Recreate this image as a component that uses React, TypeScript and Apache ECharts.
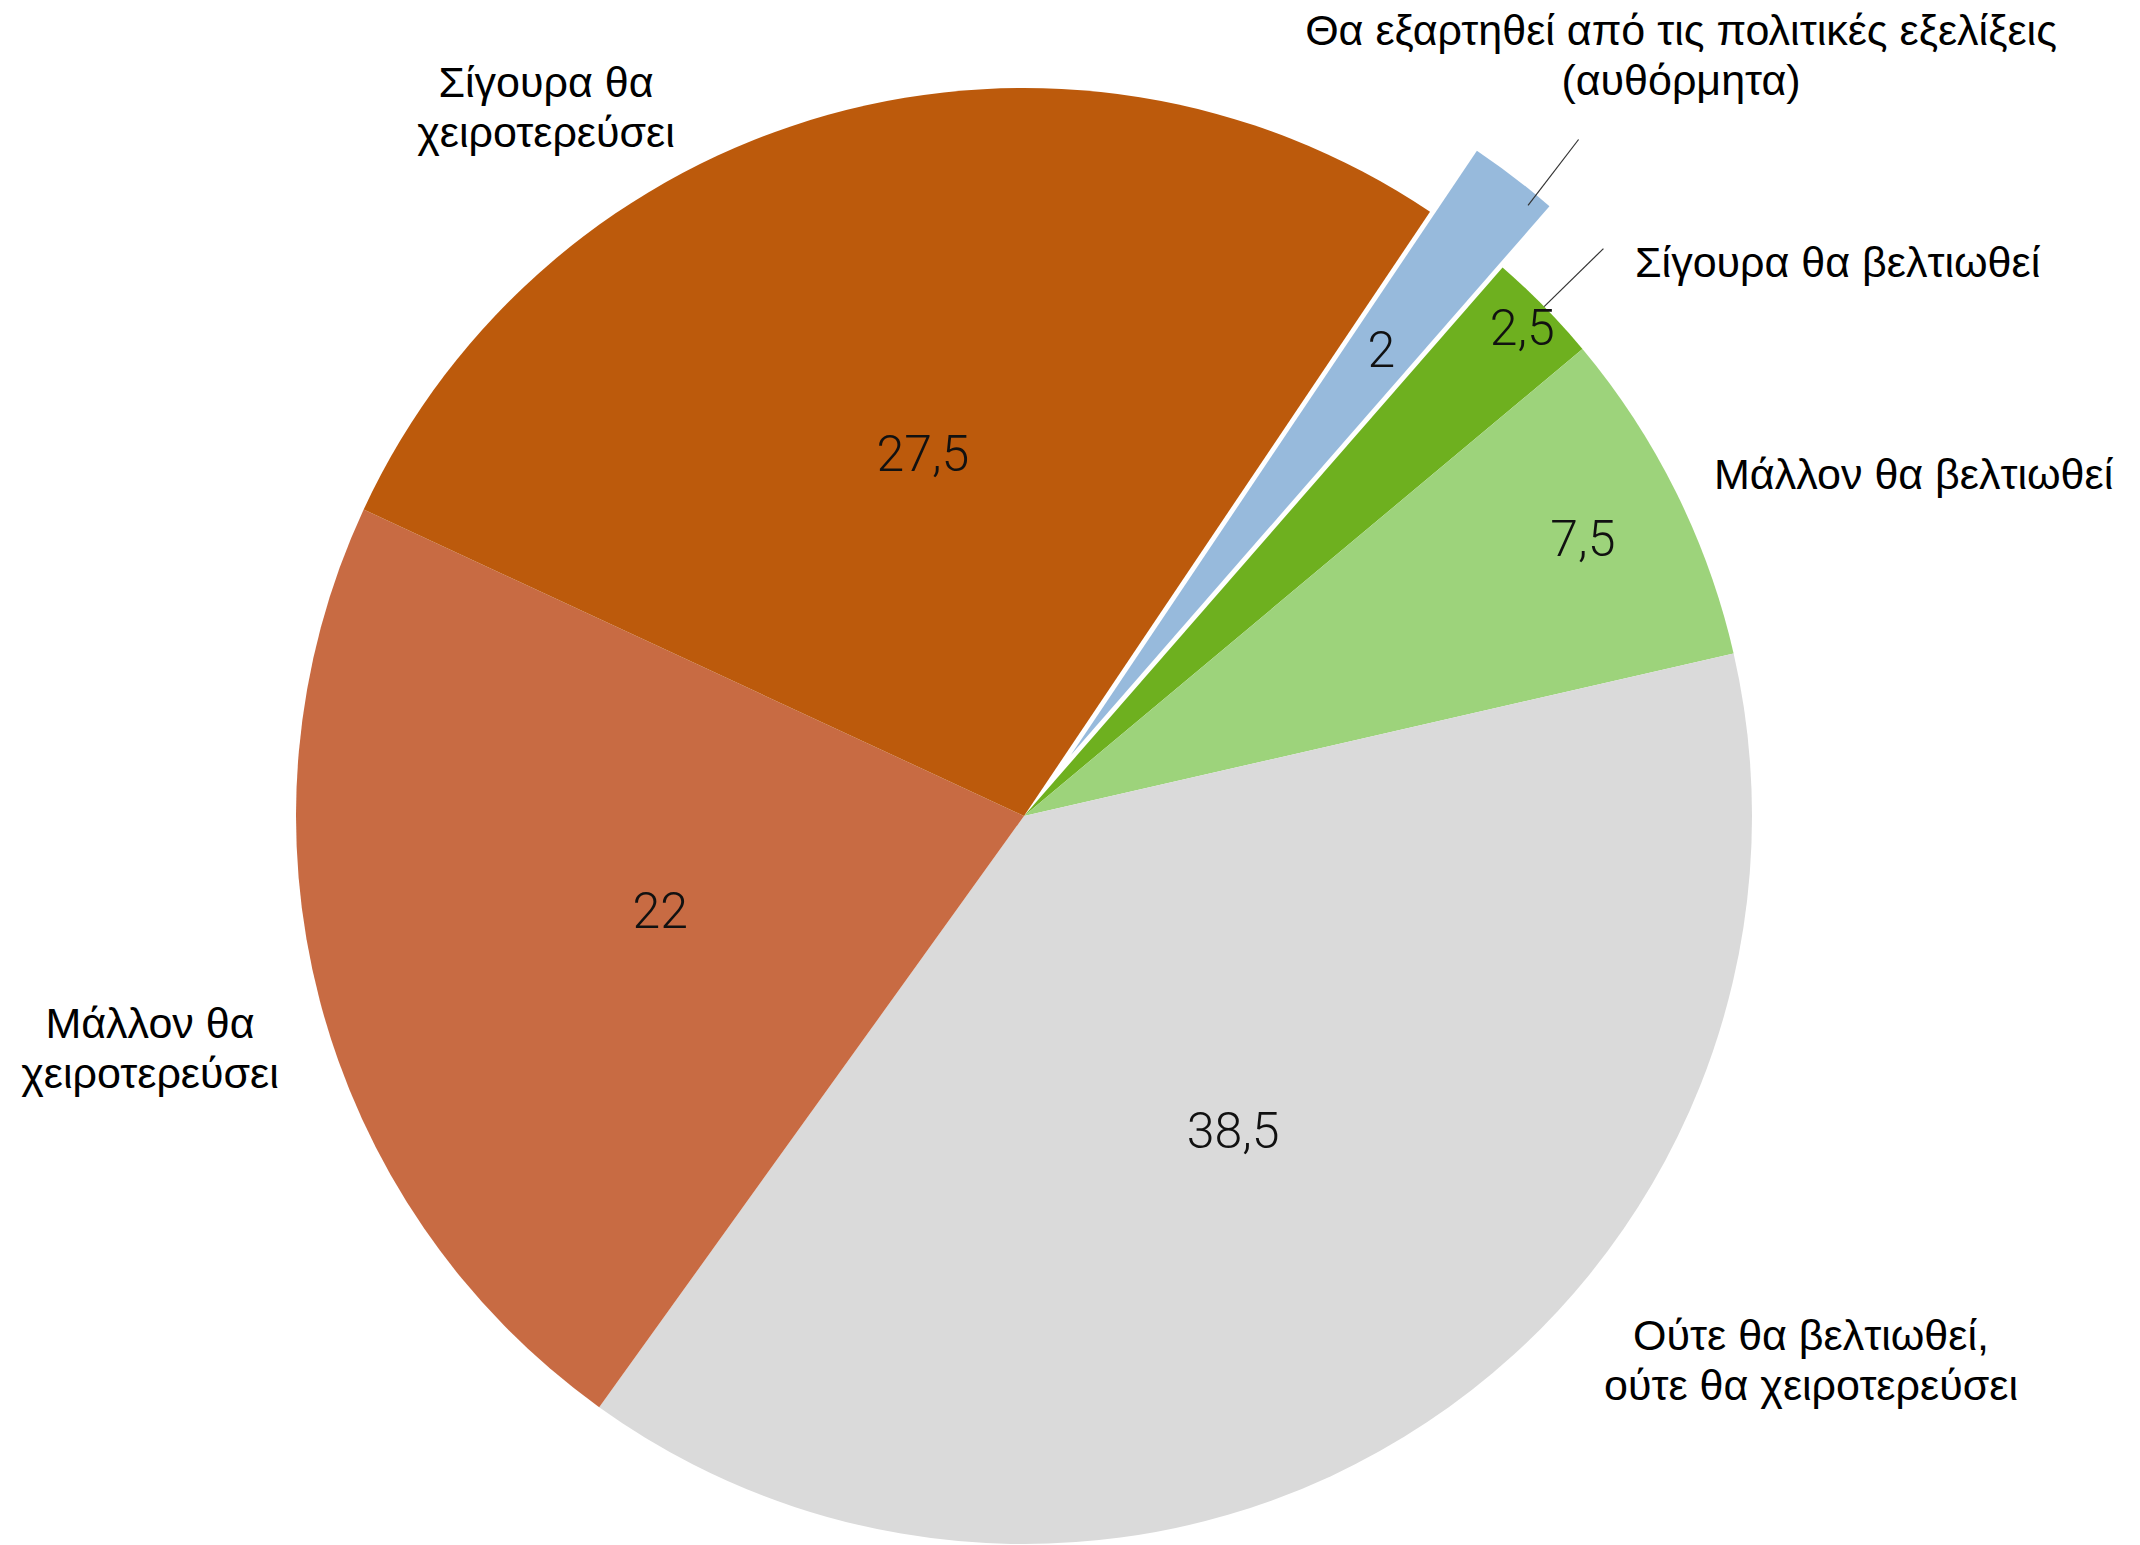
import React, { useEffect, useRef } from "react";
import * as echarts from "echarts";

// ---- data ----
const categories = [
  "Θα εξαρτηθεί από τις πολιτικές εξελίξεις\n(αυθόρμητα)",
  "Σίγουρα θα βελτιωθεί",
  "Μάλλον θα βελτιωθεί",
  "Ούτε θα βελτιωθεί,\nούτε θα χειροτερεύσει",
  "Μάλλον θα\nχειροτερεύσει",
  "Σίγουρα θα\nχειροτερεύσει",
];
const values = [2, 2.5, 7.5, 38.5, 22, 27.5];
const explodedIndex = 0;

// ---- style / layout ----
const colors = ["#97BADC", "#6EB01F", "#9DD37B", "#DADADA", "#C86B43", "#BC5A0C"];
const CX = 1024;
const CY = 816;
const RADIUS = 728;
const START_ANGLE = 56.1;
const EXPLODE = 77;
const EXPLODED_LINE_NUDGE = [14, 28];
const VALUE_RADIAL = [1.6, 1.9, 1.7, 1.03, 1.025, 1.025];
const NAME_POS = [
  { x: 1681, y: 55, align: "center" },
  { x: 1635, y: 262, align: "left" },
  { x: 1714, y: 474, align: "left" },
  { x: 1811, y: 1360, align: "center" },
  { x: 150, y: 1048, align: "center" },
  { x: 546, y: 107, align: "center" },
];
const SHOW_LINE = [true, true, false, false, false, false];

const NAME_FONT = "'Helvetica Neue', Helvetica, 'Liberation Sans', Arial, sans-serif";
const VALUE_FONT = "'Helvetica Neue', Roboto, 'Liberation Sans', sans-serif";

export default function App() {
  const ref = useRef<HTMLDivElement>(null);

  useEffect(() => {
    if (!ref.current) return;
    const chart = echarts.init(ref.current, undefined, { renderer: "svg" });

    const sliceData = values.map((v, i) => ({
      name: categories[i],
      value: v,
      selected: i === explodedIndex,
      itemStyle: { color: colors[i] },
    }));

    const ghostData = (withLines: boolean) =>
      values.map((v, i) => ({
        name: categories[i],
        value: v,
        itemStyle: { color: "rgba(0,0,0,0)" },
        labelLine: { show: withLines && SHOW_LINE[i] },
      }));

    const common = {
      type: "pie",
      center: [CX, CY],
      radius: [0, RADIUS],
      startAngle: START_ANGLE,
      clockwise: true,
      avoidLabelOverlap: false,
      emphasis: { disabled: true },
    };

    chart.setOption({
      animation: false,
      backgroundColor: "#ffffff",
      series: [
        {
          ...common,
          name: "slices",
          data: sliceData,
          selectedMode: "multiple",
          selectedOffset: EXPLODE,
          select: { disabled: false, itemStyle: {} },
          itemStyle: { borderWidth: 0 },
          label: { show: false },
          labelLine: { show: false },
        },
        {
          ...common,
          name: "values",
          silent: true,
          z: 3,
          data: ghostData(false),
          label: {
            show: true,
            position: "inside",
            color: "#111111",
            fontFamily: VALUE_FONT,
            fontWeight: 300,
            fontSize: 50,
            formatter: (p: any) => String(p.value).replace(".", ","),
          },
          labelLine: { show: false },
          labelLayout: (p: any) => {
            const r = p.labelRect;
            const mx = r.x + r.width / 2;
            const my = r.y + r.height / 2;
            const f = VALUE_RADIAL[p.dataIndex];
            return {
              x: CX + (mx - CX) * f,
              y: CY + (my - CY) * f,
              align: "center",
              verticalAlign: "middle",
            };
          },
        },
        {
          ...common,
          name: "names",
          silent: true,
          z: 4,
          data: ghostData(true),
          label: {
            show: true,
            position: "outside",
            color: "#000000",
            fontFamily: NAME_FONT,
            fontSize: 43,
            lineHeight: 50,
            formatter: (p: any) => p.name,
          },
          labelLine: {
            show: true,
            showAbove: true,
            length: 83,
            length2: 0,
            lineStyle: { color: "#333333", width: 1.2 },
          },
          labelLayout: (p: any) => {
            const pos = NAME_POS[p.dataIndex];
            let pts = p.labelLinePoints;
            if (pts && pts.length && p.dataIndex === explodedIndex) {
              const dx = pts[0][0] - CX;
              const dy = pts[0][1] - CY;
              const d = Math.sqrt(dx * dx + dy * dy) || 1;
              const ox = (dx / d) * EXPLODE + EXPLODED_LINE_NUDGE[0];
              const oy = (dy / d) * EXPLODE + EXPLODED_LINE_NUDGE[1];
              pts = pts.map((q: number[]) => [q[0] + ox, q[1] + oy]);
            }
            return {
              x: pos.x,
              y: pos.y,
              align: pos.align,
              verticalAlign: "middle",
              labelLinePoints: pts,
            };
          },
        },
      ],
    } as any);

    return () => chart.dispose();
  }, []);

  return (
    <div
      ref={ref}
      style={{ position: "fixed", left: 0, top: 0, width: 2140, height: 1545 }}
    />
  );
}
